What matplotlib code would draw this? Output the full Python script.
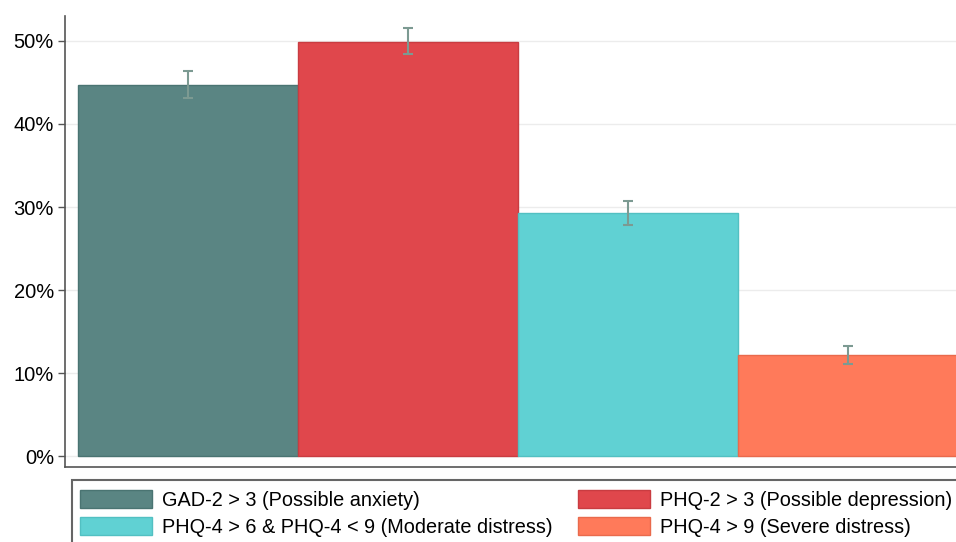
import numpy as np
import matplotlib
matplotlib.use("Agg")
import matplotlib.pyplot as plt
from matplotlib.patches import Rectangle
from matplotlib.ticker import FuncFormatter

plt.rcParams['font.family'] = ['Liberation Sans', 'DejaVu Sans']

# data (percent)
labels = ["GAD-2 > 3 (Possible anxiety)",
          "PHQ-2 > 3 (Possible depression)",
          "PHQ-4 > 6 & PHQ-4 < 9 (Moderate distress)",
          "PHQ-4 > 9 (Severe distress)"]
values = [44.7, 49.9, 29.3, 12.2]
ci_low = [43.1, 48.4, 27.8, 11.1]
ci_high = [46.4, 51.6, 30.7, 13.3]
yticks = [0, 10, 20, 30, 40, 50]

colors = ["#5a8583", "#e0474c", "#60d1d3", "#ff7a5a"]
edges = ["#4a7472", "#c93c41", "#52c0c2", "#e96a4c"]

W, H = 956, 542
fig = plt.figure(figsize=(W / 100, H / 100), dpi=100)
ax = fig.add_axes([65 / W, 75 / H, (971 - 65) / W, (526 - 75) / H])

x = np.arange(len(values))
bars = ax.bar(x, values, width=1.0, color=colors, edgecolor=edges, linewidth=1, zorder=2)

err = [np.array(values) - np.array(ci_low), np.array(ci_high) - np.array(values)]
ax.errorbar(x, values, yerr=err, fmt="none", ecolor="#7c9a92", elinewidth=1.5,
            capsize=3.8, capthick=1.5, zorder=3)

ax.set_xlim(-0.559, 3.559)
ax.set_ylim(-1.3, 53)
ax.set_yticks(yticks)
ax.yaxis.set_major_formatter(FuncFormatter(lambda v, p: f"{v:.0f}%"))
ax.set_xticks([])
ax.tick_params(axis="y", length=5, width=1, color="#555555", labelsize=14.5, pad=3)
ax.grid(axis="y", color="#ececec", linewidth=1, zorder=0)
ax.set_axisbelow(True)

for s in ["top", "right"]:
    ax.spines[s].set_visible(False)
for s in ["left", "bottom"]:
    ax.spines[s].set_color("#555555")
    ax.spines[s].set_linewidth(1.2)

# legend filled row by row, as in the reference
order = [0, 2, 1, 3]
leg = fig.legend([bars[i] for i in order], [labels[i] for i in order],
                 loc="upper left", ncol=2, bbox_to_anchor=(80 / W, 1 - 490 / H),
                 fontsize=14.3, frameon=False,
                 handlelength=3.6, handleheight=1.0, handletextpad=0.55,
                 labelspacing=0.36, borderaxespad=0, borderpad=0, columnspacing=1.26)

# legend frame, running off the right and bottom edges like the reference
fig.patches.append(Rectangle((72 / W, -10 / H), (1000 - 72) / W, (62 + 10) / H,
                             transform=fig.transFigure, fill=False,
                             edgecolor="#666666", linewidth=1.5))

fig.savefig("out.png", dpi=100)
